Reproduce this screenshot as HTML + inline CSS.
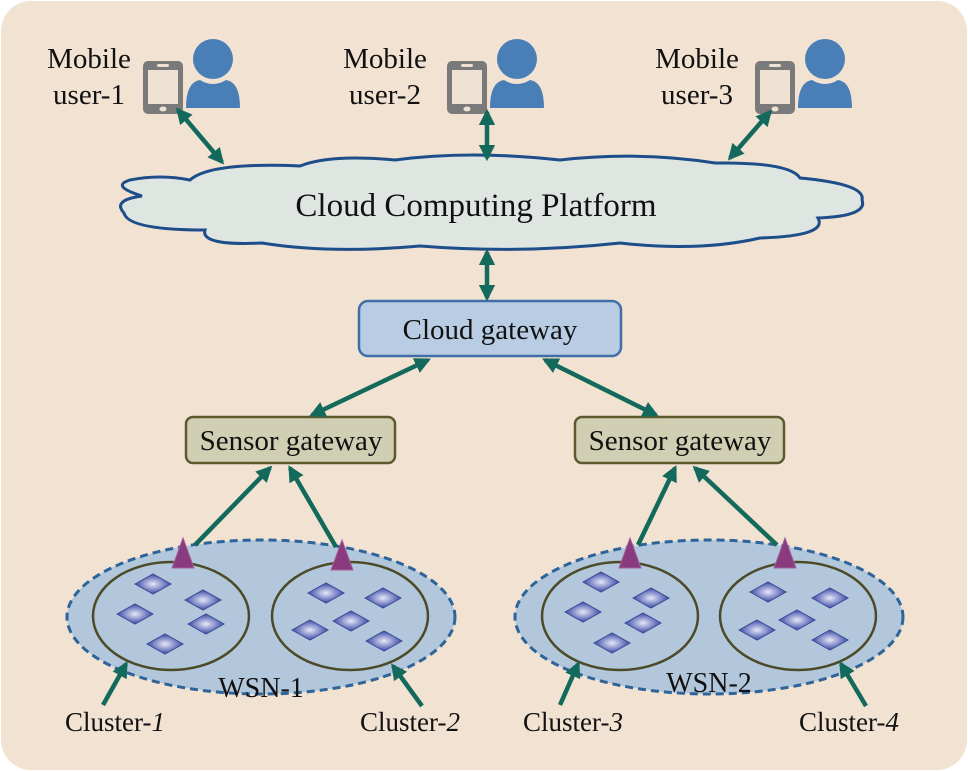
<!DOCTYPE html>
<html><head><meta charset="utf-8"><style>
html,body{margin:0;padding:0;background:#fff;}
svg{display:block;}
text{font-family:"Liberation Serif",serif;fill:#111;}
</style></head><body>
<svg width="968" height="771" viewBox="0 0 968 771" xmlns="http://www.w3.org/2000/svg">
<defs>
<marker id="ah" viewBox="0 0 10 10" refX="8" refY="5" markerWidth="3.6" markerHeight="3.6" orient="auto-start-reverse"><path d="M0,0 L10,5 L0,10 z" fill="#12695c"/></marker>
<radialGradient id="dg" cx="50%" cy="50%" r="50%"><stop offset="0" stop-color="#e6e8f6"/><stop offset="0.6" stop-color="#7f88c8"/><stop offset="1" stop-color="#3a4aa0"/></radialGradient>
<g id="dm"><path d="M-18,0 L0,-10 L18,0 L0,10 Z" fill="url(#dg)" stroke="#3c4a98" stroke-width="1"/></g>
<g id="phone"><rect x="0" y="0" width="40" height="53" rx="5" fill="#7a7a7a"/><rect x="5" y="9" width="30" height="34" fill="#f0e2d3"/><rect x="14" y="3" width="12" height="3" rx="1.5" fill="#f0e2d3"/><ellipse cx="20" cy="48" rx="3.5" ry="2.5" fill="#f0e2d3"/></g>
<g id="person"><circle cx="27" cy="19" r="20" fill="#4a7eb6"/><path d="M0,68 Q0,42 14,40 Q27,48 40,40 Q54,42 54,68 Z" fill="#4a7eb6"/></g>
</defs>
<rect x="1" y="1" width="966" height="769" rx="30" fill="#f2e2d2"/>

<!-- mobile users -->
<text x="89" y="68" font-size="29" text-anchor="middle">Mobile</text>
<text x="89" y="104" font-size="29" text-anchor="middle">user-1</text>
<use href="#phone" x="143" y="61"/><use href="#person" x="186" y="40"/>
<text x="385" y="68" font-size="29" text-anchor="middle">Mobile</text>
<text x="385" y="104" font-size="29" text-anchor="middle">user-2</text>
<use href="#phone" x="447" y="61"/><use href="#person" x="490" y="40"/>
<text x="697" y="68" font-size="29" text-anchor="middle">Mobile</text>
<text x="697" y="104" font-size="29" text-anchor="middle">user-3</text>
<use href="#phone" x="755" y="61"/><use href="#person" x="798" y="40"/>

<!-- cloud -->
<path d="M190,180 Q210,162 300,166 Q330,154 395,160 Q470,150 560,160 Q640,151 715,163 Q790,162 800,178 Q866,184 862,200 Q868,216 818,218 Q828,236 760,238 Q700,252 620,243 Q520,254 420,246 Q330,254 262,243 Q200,246 205,230 Q128,230 124,213 Q112,200 142,196 Q110,186 130,180 Q160,174 190,180 Z" fill="#dfe6e2" stroke="#1d4e8a" stroke-width="3"/>
<text x="476" y="216" font-size="33" text-anchor="middle">Cloud Computing Platform</text>

<!-- cloud gateway -->
<rect x="359" y="301" width="262" height="55" rx="9" fill="#b8cde3" stroke="#3f6ea8" stroke-width="2.5"/>
<text x="490" y="339" font-size="29" text-anchor="middle">Cloud gateway</text>

<!-- sensor gateways -->
<rect x="186" y="417" width="209" height="46" rx="7" fill="#d0cfb3" stroke="#5e5a2e" stroke-width="2.5"/>
<text x="291" y="450" font-size="29" text-anchor="middle">Sensor gateway</text>
<rect x="575" y="417" width="209" height="46" rx="7" fill="#d0cfb3" stroke="#5e5a2e" stroke-width="2.5"/>
<text x="680" y="450" font-size="29" text-anchor="middle">Sensor gateway</text>

<!-- WSNs -->
<ellipse cx="261" cy="617" rx="194" ry="77" fill="#b3c7dc" stroke="#2e6499" stroke-width="3" stroke-dasharray="8,5"/>
<ellipse cx="709" cy="617" rx="194" ry="77" fill="#b3c7dc" stroke="#2e6499" stroke-width="3" stroke-dasharray="8,5"/>
<ellipse cx="171" cy="616" rx="78" ry="54" fill="none" stroke="#4d4a28" stroke-width="2.5"/>
<ellipse cx="350" cy="616" rx="78" ry="54" fill="none" stroke="#4d4a28" stroke-width="2.5"/>
<ellipse cx="620" cy="616" rx="78" ry="54" fill="none" stroke="#4d4a28" stroke-width="2.5"/>
<ellipse cx="798" cy="616" rx="78" ry="54" fill="none" stroke="#4d4a28" stroke-width="2.5"/>

<g>
<use href="#dm" x="153" y="584"/><use href="#dm" x="203" y="600"/><use href="#dm" x="135" y="614"/><use href="#dm" x="206" y="624"/><use href="#dm" x="165" y="644"/>
<use href="#dm" x="326" y="593"/><use href="#dm" x="383" y="598"/><use href="#dm" x="351" y="621"/><use href="#dm" x="310" y="630"/><use href="#dm" x="384" y="641"/>
<use href="#dm" x="601" y="582"/><use href="#dm" x="651" y="598"/><use href="#dm" x="583" y="612"/><use href="#dm" x="643" y="623"/><use href="#dm" x="612" y="643"/>
<use href="#dm" x="768" y="592"/><use href="#dm" x="830" y="598"/><use href="#dm" x="797" y="620"/><use href="#dm" x="757" y="630"/><use href="#dm" x="830" y="640"/>
</g>

<!-- triangles -->
<g fill="#8a3a7e" stroke="#a0609a" stroke-width="1">
<path d="M172,568 L183,538 L194,568 Z"/><path d="M331,570 L342,540 L353,570 Z"/>
<path d="M619,568 L630,538 L641,568 Z"/><path d="M774,568 L785,538 L796,568 Z"/>
</g>

<text x="261" y="697" font-size="28" text-anchor="middle">WSN-1</text>
<text x="709" y="692" font-size="28" text-anchor="middle">WSN-2</text>

<!-- arrows -->
<g stroke="#12695c" stroke-width="4.5" fill="none">
<line x1="178" y1="110" x2="222" y2="162" marker-start="url(#ah)" marker-end="url(#ah)"/>
<line x1="487" y1="112" x2="487" y2="158" marker-start="url(#ah)" marker-end="url(#ah)"/>
<line x1="770" y1="112" x2="730" y2="158" marker-start="url(#ah)" marker-end="url(#ah)"/>
<line x1="487" y1="252" x2="487" y2="298" marker-start="url(#ah)" marker-end="url(#ah)"/>
<line x1="428" y1="360" x2="312" y2="415" marker-start="url(#ah)" marker-end="url(#ah)"/>
<line x1="545" y1="360" x2="656" y2="415" marker-start="url(#ah)" marker-end="url(#ah)"/>
<line x1="195" y1="545" x2="270" y2="468" marker-end="url(#ah)"/>
<line x1="336" y1="547" x2="290" y2="468" marker-end="url(#ah)"/>
<line x1="638" y1="545" x2="675" y2="468" marker-end="url(#ah)"/>
<line x1="777" y1="545" x2="695" y2="468" marker-end="url(#ah)"/>
<line x1="103" y1="705" x2="126" y2="664" marker-end="url(#ah)"/>
<line x1="422" y1="706" x2="393" y2="666" marker-end="url(#ah)"/>
<line x1="560" y1="705" x2="578" y2="664" marker-end="url(#ah)"/>
<line x1="866" y1="706" x2="841" y2="664" marker-end="url(#ah)"/>
</g>

<!-- cluster labels -->
<text x="65" y="731" font-size="27">Cluster-<tspan font-style="italic">1</tspan></text>
<text x="360" y="731" font-size="27">Cluster-<tspan font-style="italic">2</tspan></text>
<text x="523" y="731" font-size="27">Cluster-<tspan font-style="italic">3</tspan></text>
<text x="799" y="731" font-size="27">Cluster-<tspan font-style="italic">4</tspan></text>
</svg>
</body></html>
